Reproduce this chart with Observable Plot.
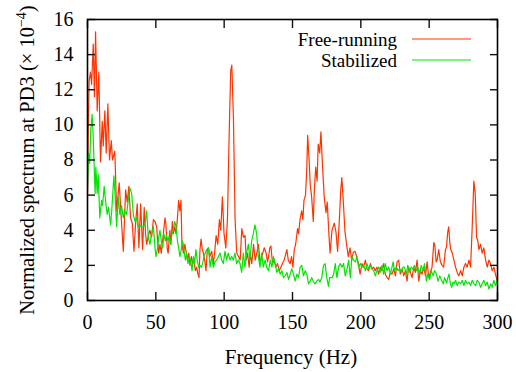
<!DOCTYPE html>
<html><head><meta charset="utf-8">
<script src="https://cdn.jsdelivr.net/npm/d3@7"></script>
<script src="https://cdn.jsdelivr.net/npm/@observablehq/plot@0.6"></script>
<style>body{margin:0;background:#fff} svg{display:block} svg text{font-family:"Liberation Serif","Times New Roman",Times,"DejaVu Serif","Noto Serif",serif !important}</style>
</head><body><div id="chart"></div>
<script>
// Free-running spectrum
const redFreq = [0,0.6,1.2,2.2,3.0,4.2,5.1,5.9,7.1,8.3,9.5,10.8,11.5,12.7,13.7,14.9,16.1,17.4,18.3,20.0,21.3,23.2,24.7,26.2,27.9,29.1,30.3,31.5,32.8,34.0,35.2,36.4,37.6,38.9,40.3,41.5,42.5,43.3,44.5,45.7,46.9,48.2,49.4,50.6,51.3,52.1,53.0,54.0,55.5,56.7,57.3,58.4,59.0,60.3,61.0,62.1,62.9,63.8,64.8,65.8,66.7,67.6,68.4,69.1,70.2,71.2,72.1,73.1,74.1,75.0,76.0,77.0,77.9,78.9,79.9,80.8,81.6,82.3,83.1,84.0,84.8,85.8,86.7,87.7,88.5,89.5,90.9,92.1,93.0,94.1,95.3,96.5,97.5,98.7,99.9,101.2,102.4,103.6,104.8,105.6,106.8,108.0,109.2,110.5,111.7,112.9,114.1,115.3,116.1,117.1,118.3,119.0,120.2,121.5,122.7,123.9,125.1,126.3,127.6,129.3,130.7,131.7,132.5,133.4,134.2,135.4,136.6,137.8,139.0,140.3,141.5,142.7,143.9,145.9,146.9,148.3,149.3,150.3,151.3,152.3,153.7,154.5,155.5,156.7,157.6,158.4,159.5,160.4,161.1,162.0,163.0,164.0,165.2,166.0,167.0,168.0,168.8,169.9,170.8,172.0,173.2,174.5,175.4,176.9,177.5,178.9,180.6,181.8,183.0,184.3,185.3,186.1,187.2,188.4,189.6,190.8,192.1,193.3,194.5,195.8,197.0,198.2,199.5,200.8,202.0,203.3,204.5,205.7,207.0,208.2,209.4,210.6,211.8,213.0,214.3,215.5,216.7,217.9,219.2,220.4,221.6,222.8,224.1,225.3,226.5,227.7,228.9,230.2,231.4,232.6,233.8,235.0,236.3,237.5,238.7,239.9,241.2,242.4,243.6,244.8,246.0,247.3,248.5,249.7,250.9,252.1,253.4,254.1,255.1,255.8,257.0,258.2,259.4,260.6,261.9,262.6,263.6,264.3,265.1,265.8,266.9,268.1,269.3,270.5,271.7,273.0,274.2,275.4,276.6,277.8,279.1,280.3,281.5,282.7,283.7,284.7,285.6,286.4,287.6,288.8,290.0,291.3,292.5,293.7,294.9,296.1,297.3,298.5,299.8];
const redVal = [6.0,10.0,12.5,13.0,12.3,14.6,11.6,15.3,10.8,13.0,7.9,10.2,8.8,10.8,8.4,11.2,8.0,9.1,8.0,8.5,5.1,6.7,4.7,2.8,6.3,5.6,6.5,4.7,4.4,2.8,4.4,5.5,3.0,5.5,2.9,5.3,3.8,3.2,3.7,4.0,3.6,4.6,4.5,4.2,3.4,2.7,3.2,2.7,3.8,4.7,4.4,2.9,2.7,4.0,3.2,4.5,3.8,4.2,3.8,4.7,5.7,5.1,5.7,3.2,2.7,3.2,2.8,2.3,2.7,2.0,2.5,2.1,2.3,1.7,1.9,1.5,1.3,2.9,3.5,2.9,2.7,2.3,1.7,2.9,3.0,2.5,2.8,2.1,2.7,3.7,3.2,4.6,4.0,5.9,3.8,3.0,4.6,9.3,13.1,13.4,10.3,4.6,2.7,2.5,2.3,4.1,3.6,3.7,2.3,2.7,1.9,2.7,2.1,3.2,2.3,2.7,3.2,2.1,2.5,3.0,2.7,2.2,2.5,3.0,3.1,2.1,2.3,1.9,2.1,1.7,1.9,2.1,2.3,2.9,2.3,2.1,2.5,1.9,2.9,3.2,4.1,3.8,4.6,5.1,4.6,5.7,6.0,7.4,9.4,8.2,6.6,5.9,4.5,6.3,7.6,6.8,8.9,8.4,9.6,7.6,5.9,5.0,5.6,3.4,2.7,4.0,4.4,3.9,2.8,4.6,6.3,7.0,5.6,3.9,3.2,2.5,3.0,2.3,2.75,2.8,2.5,2.1,1.5,2.1,1.9,2.3,1.8,1.7,2.1,1.8,1.9,1.7,1.9,1.5,1.9,1.7,2.1,1.5,1.3,1.2,1.6,1.5,1.8,1.4,2.2,2.3,1.5,1.8,1.4,1.7,1.1,1.9,1.6,1.3,1.9,1.6,2.3,1.1,1.7,1.5,1.9,1.4,2.2,1.3,1.6,1.9,3.3,3.2,2.2,2.3,2.9,2.2,2.0,1.9,2.9,3.0,3.9,4.2,3.3,2.9,2.7,2.3,1.9,1.6,1.4,1.7,1.4,1.9,2.1,1.9,2.3,1.9,4.2,6.8,6.1,3.6,3.4,2.9,3.2,2.7,3.0,2.3,1.9,2.3,2.1,1.7,1.9,1.5,1.1];

// Stabilized spectrum
const greenFreq = [0,0.8,1.6,2.4,3.4,4.2,4.9,5.6,6.1,7.1,7.8,9.0,10.3,11.0,12.2,13.2,14.4,15.4,16.9,17.8,19.3,20.3,21.3,22.5,23.7,24.9,26.2,27.3,28.6,29.8,31.0,32.3,33.5,34.7,35.9,37.1,38.4,39.6,40.8,42.0,43.3,44.5,45.7,46.9,48.2,49.4,50.1,51.3,52.1,53.0,54.0,55.0,55.9,56.9,57.9,58.9,59.8,60.8,61.8,62.8,63.8,64.8,65.8,66.7,67.6,68.6,69.6,70.6,71.6,72.6,73.5,74.5,75.5,76.5,77.5,78.4,79.3,80.3,81.3,82.3,83.3,84.2,85.2,86.2,87.2,88.5,89.7,90.9,92.1,93.3,94.5,95.8,97.0,98.2,99.4,100.6,101.8,103.0,104.3,105.5,106.7,107.9,109.1,110.4,111.6,112.8,114.0,115.2,116.4,117.7,118.9,120.1,121.3,122.5,123.8,125.0,126.2,127.4,128.6,129.9,131.1,132.5,133.7,134.9,136.1,137.3,138.5,139.8,141.0,142.2,143.4,144.6,145.9,147.1,148.3,149.5,150.7,151.9,153.2,154.4,155.6,156.8,158.0,159.3,160.5,161.7,162.9,164.1,165.4,166.6,167.8,169.0,170.2,171.4,172.7,173.9,175.1,176.3,177.2,178.9,180.1,181.3,182.5,183.7,185.0,186.2,187.4,188.6,189.9,191.1,192.3,193.5,194.7,196.0,197.2,198.4,199.6,200.8,202.0,203.3,204.5,205.7,206.9,208.1,209.4,210.6,211.8,213.0,214.2,215.5,216.7,217.9,219.1,220.4,221.6,222.8,223.6,224.6,226.0,227.3,228.5,229.5,230.9,231.9,233.4,234.3,235.8,236.8,238.2,239.2,240.7,241.7,243.1,244.1,245.6,246.6,248.0,249.0,250.5,251.5,252.9,253.9,255.4,256.4,257.8,258.8,260.3,261.3,262.8,263.7,264.5,265.6,266.5,267.4,268.4,269.3,270.5,271.7,273.0,274.2,275.4,276.6,277.8,279.1,280.3,281.5,282.7,284.0,285.2,286.4,287.6,288.8,290.0,291.3,292.5,293.7,294.9,296.1,297.3,298.5,300.0];
const greenVal = [6.3,8.4,7.8,9.7,10.6,9.3,7.6,6.1,7.6,6.1,7.2,4.7,5.7,5.4,6.5,5.7,4.9,5.3,4.3,5.2,7.1,5.9,4.2,5.9,4.9,5.4,4.7,5.1,4.9,5.7,6.4,6.1,4.9,4.5,4.7,4.2,4.3,4.2,4.2,4.3,5.1,3.6,3.2,3.8,4.2,3.0,2.5,3.0,3.6,4.0,3.4,3.0,3.8,3.4,3.7,3.4,3.7,3.2,3.8,4.0,4.5,4.2,3.4,3.0,2.5,2.9,3.4,2.9,2.3,2.7,2.1,2.5,2.3,1.7,2.5,2.1,2.9,2.3,1.9,2.0,1.9,2.1,2.5,2.7,2.9,3.0,1.9,2.5,1.9,2.2,2.3,2.5,2.7,2.3,2.1,2.8,2.3,2.7,2.3,2.5,2.3,2.7,2.1,2.3,2.1,1.6,2.7,1.9,2.7,3.2,2.3,3.4,3.8,4.3,3.8,2.5,1.9,2.7,1.9,2.3,1.9,1.7,2.3,1.9,2.5,2.1,1.6,1.8,1.5,1.7,1.3,1.4,1.6,1.2,1.5,1.8,1.5,1.1,1.5,1.3,1.9,2.0,1.4,1.7,1.5,0.95,1.1,1.3,1.05,0.95,1.1,1.2,1.05,1.3,2.0,2.1,1.3,0.8,1.3,1.3,1.5,2.1,1.3,1.9,2.1,1.9,2.1,1.4,1.8,2.3,1.3,2.5,2.3,2.2,2.5,1.9,2.1,1.9,2.0,1.7,2.1,1.8,2.0,1.8,1.7,1.4,1.7,1.9,1.6,2.0,1.5,2.1,1.7,1.9,1.5,1.9,2.2,1.7,1.9,1.7,1.8,1.6,1.9,1.9,1.5,2.0,1.6,1.9,1.8,2.0,1.7,1.9,1.5,2.0,1.7,2.1,1.1,1.5,1.2,1.7,1.4,1.7,1.5,1.1,1.4,1.2,0.95,1.3,1.0,1.3,1.5,0.95,0.75,1.05,0.95,1.15,0.85,1.05,0.95,1.15,0.85,1.15,0.95,1.05,0.85,1.15,0.95,0.85,1.15,1.05,0.75,0.95,1.15,0.85,1.05,0.65,0.95,0.75,1.15,0.85,1.2];

const seriesNames = ["Free-running", "Stabilized"];
const seriesColors = ["#ff3300", "#00e600"];
const xTicks = [0, 50, 100, 150, 200, 250, 300];
const yTicks = [0, 2, 4, 6, 8, 10, 12, 14, 16];
const xLabel = "Frequency (Hz)";
const yLabelMain = "Normalized spectrum at PD3 (× 10";
const yLabelSup = "−4";
const yLabelEnd = ")";

const rows = [];
redFreq.forEach((f, i) => rows.push({series: seriesNames[0], f, v: redVal[i]}));
greenFreq.forEach((f, i) => rows.push({series: seriesNames[1], f, v: greenVal[i]}));

const font = "Liberation Serif";
const tickOpts = {tickSize: -8, tickFormat: () => "", label: null, stroke: "#111", strokeWidth: 1.4};
const chart = Plot.plot({
  width: 516, height: 372,
  marginLeft: 87, marginRight: 19, marginTop: 19, marginBottom: 72,
  style: {fontFamily: font, fontSize: "20px", background: "white", color: "black"},
  x: {domain: [0, 300]},
  y: {domain: [0, 16]},
  color: {domain: seriesNames, range: seriesColors},
  marks: [
    Plot.line(rows, {x: "f", y: "v", z: "series", stroke: "series", strokeWidth: 1.2}),
    Plot.axisX({anchor: "bottom", ticks: xTicks, ...tickOpts}),
    Plot.axisX({anchor: "top", ticks: xTicks, ...tickOpts}),
    Plot.axisY({anchor: "left", ticks: yTicks, ...tickOpts}),
    Plot.axisY({anchor: "right", ticks: yTicks, ...tickOpts}),
    Plot.axisX({anchor: "bottom", ticks: xTicks, tickSize: 0, tickPadding: 14, fontSize: 20, label: null}),
    Plot.axisY({anchor: "left", ticks: yTicks, tickSize: 0, tickPadding: 14, fontSize: 20, label: null}),
    Plot.frame({stroke: "black", strokeWidth: 1.6})
  ]
});
document.getElementById("chart").appendChild(chart);

const svg = d3.select(chart);
// axis titles
svg.append("text").attr("x", 291).attr("y", 364).attr("text-anchor", "middle")
  .attr("font-size", 21).attr("fill", "black").text(xLabel);
const yl = svg.append("text").attr("transform", "translate(34,160) rotate(-90)")
  .attr("text-anchor", "middle").attr("font-size", 20.5).attr("fill", "black");
yl.append("tspan").text(yLabelMain);
yl.append("tspan").attr("dy", -8).attr("font-size", 14).text(yLabelSup);
yl.append("tspan").attr("dy", 8).text(yLabelEnd);

// legend inside the frame (top right)
const leg = svg.append("g").attr("font-size", 19);
seriesNames.forEach((name, i) => {
  const yy = 39 + i * 21;
  leg.append("text").attr("x", 397).attr("y", yy + 7).attr("text-anchor", "end").attr("fill", "black").text(name);
  leg.append("line").attr("x1", 412).attr("x2", 471).attr("y1", yy).attr("y2", yy)
    .attr("stroke", seriesColors[i]).attr("stroke-width", 1.2);
});
</script></body></html>
